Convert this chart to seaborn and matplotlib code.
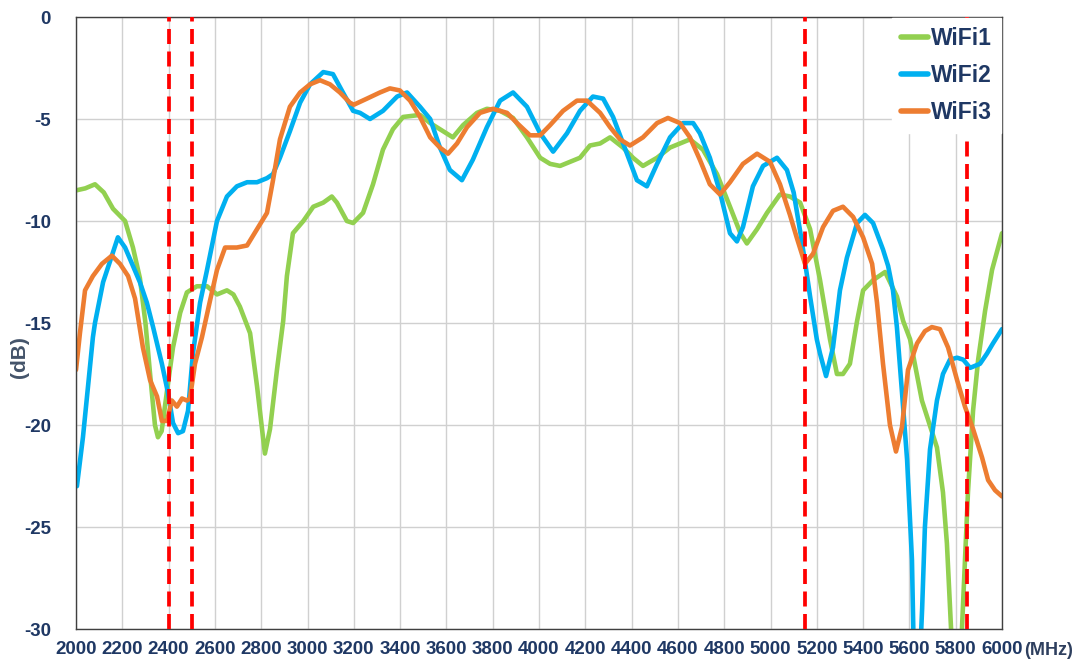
import pandas as pd
import matplotlib
matplotlib.use("Agg")
import matplotlib.pyplot as plt
import seaborn as sns

# --- data (MHz, dB) ---
wifi1_f = [2000, 2040, 2082, 2120, 2160, 2212, 2246, 2276, 2300, 2320, 2341, 2354, 2370, 2397, 2419,
           2450, 2479, 2522, 2566, 2609, 2652, 2680, 2708, 2752, 2782, 2816, 2838, 2868, 2895, 2911,
           2937, 2982, 3025, 3068, 3105, 3127, 3170, 3197, 3240, 3283, 3326, 3369, 3413, 3486, 3530,
           3572, 3628, 3672, 3732, 3775, 3832, 3888, 3948, 4005, 4048, 4091, 4134, 4177, 4220, 4264,
           4307, 4363, 4406, 4449, 4510, 4566, 4609, 4652, 4708, 4769, 4825, 4870, 4898, 4942, 4985,
           5041, 5084, 5128, 5171, 5214, 5257, 5287, 5313, 5343, 5374, 5400, 5443, 5495, 5546, 5573,
           5603, 5654, 5719, 5745, 5762, 5780, 5800, 5815, 5827, 5853, 5875, 5897, 5927, 5957, 6000]
wifi1_db = [-8.5, -8.4, -8.2, -8.6, -9.4, -10.0, -11.3, -12.8, -15.0, -17.5, -20.0, -20.6, -20.3, -18.0, -16.2,
            -14.5, -13.5, -13.2, -13.2, -13.6, -13.4, -13.6, -14.2, -15.5, -18.1, -21.4, -20.2, -17.3, -14.9, -12.7,
            -10.6, -10.0, -9.3, -9.1, -8.8, -9.1, -10.0, -10.1, -9.6, -8.2, -6.5, -5.5, -4.9, -4.8, -5.2,
            -5.5, -5.9, -5.3, -4.7, -4.5, -4.6, -4.95, -5.9, -6.9, -7.2, -7.3, -7.1, -6.9, -6.3, -6.2,
            -5.9, -6.4, -6.9, -7.3, -6.9, -6.4, -6.2, -6.0, -6.5, -7.7, -9.3, -10.6, -11.1, -10.4, -9.6,
            -8.7, -8.8, -9.1, -10.4, -12.9, -15.8, -17.5, -17.5, -17.0, -14.9, -13.4, -12.9, -12.5, -13.7, -14.9,
            -15.8, -18.8, -21.1, -23.3, -25.8, -30.0, -34.0, -34.0, -30.0, -23.3, -19.3, -16.8, -14.4, -12.4, -10.6]

wifi2_f = [2004, 2030, 2052, 2073, 2082, 2117, 2155, 2181, 2212, 2246, 2276, 2306, 2333, 2371, 2397,
           2419, 2441, 2462, 2484, 2505, 2536, 2566, 2609, 2652, 2695, 2739, 2782, 2825, 2851, 2881,
           2924, 2968, 3011, 3068, 3110, 3153, 3197, 3227, 3270, 3326, 3387, 3430, 3486, 3530, 3572,
           3615, 3667, 3714, 3775, 3832, 3888, 3948, 4005, 4061, 4121, 4177, 4233, 4277, 4320, 4380,
           4423, 4466, 4510, 4566, 4622, 4666, 4695, 4738, 4782, 4825, 4855, 4881, 4924, 4968, 5028,
           5071, 5100, 5128, 5149, 5171, 5200, 5214, 5240, 5270, 5300, 5330, 5374, 5408, 5443, 5486,
           5508, 5529, 5546, 5568, 5590, 5611, 5622, 5640, 5655, 5667, 5689, 5719, 5745, 5775, 5806,
           5833, 5862, 5905, 5935, 5961, 6000]
wifi2_db = [-23.0, -20.6, -18.1, -15.7, -15.0, -13.0, -11.7, -10.8, -11.3, -12.2, -13.0, -14.0, -15.2, -17.0, -18.4,
            -19.9, -20.4, -20.3, -19.3, -16.5, -14.0, -12.4, -10.0, -8.8, -8.3, -8.1, -8.1, -7.9, -7.7, -6.9,
            -5.6, -4.2, -3.3, -2.7, -2.8, -3.7, -4.6, -4.7, -5.0, -4.6, -3.9, -3.7, -4.4, -5.0, -6.4,
            -7.5, -8.0, -7.0, -5.4, -4.1, -3.7, -4.4, -5.7, -6.6, -5.7, -4.6, -3.9, -4.0, -4.9, -6.7,
            -8.0, -8.3, -7.2, -5.9, -5.2, -5.2, -5.7, -6.9, -8.6, -10.6, -11.0, -10.3, -8.3, -7.3, -6.9,
            -7.5, -8.6, -10.5, -12.0, -13.7, -15.8, -16.5, -17.6, -16.2, -13.4, -11.8, -10.1, -9.7, -10.1, -11.4,
            -12.2, -13.4, -15.2, -18.4, -21.7, -26.6, -33.0, -33.0, -29.0, -25.0, -21.2, -18.8, -17.5, -16.8, -16.7,
            -16.8, -17.2, -17.0, -16.5, -16.0, -15.3]

wifi3_f = [2000, 2017, 2039, 2073, 2112, 2155, 2190, 2225, 2255, 2289, 2320, 2350, 2371, 2393, 2414,
           2436, 2458, 2479, 2492, 2514, 2544, 2579, 2609, 2644, 2695, 2739, 2782, 2825, 2851, 2881,
           2924, 2968, 3011, 3054, 3097, 3140, 3183, 3200, 3257, 3313, 3356, 3399, 3443, 3486, 3530,
           3572, 3607, 3646, 3689, 3745, 3801, 3862, 3905, 3961, 4005, 4048, 4104, 4164, 4207, 4264,
           4307, 4350, 4393, 4449, 4510, 4557, 4609, 4652, 4695, 4738, 4782, 4825, 4881, 4942, 4998,
           5041, 5084, 5113, 5149, 5184, 5227, 5270, 5313, 5357, 5400, 5439, 5460, 5486, 5516, 5542,
           5568, 5594, 5633, 5667, 5697, 5732, 5767, 5806, 5840, 5875, 5914, 5940, 5970, 6000]
wifi3_db = [-17.3, -15.5, -13.4, -12.7, -12.1, -11.7, -12.1, -12.7, -13.8, -16.2, -17.8, -18.6, -19.8, -19.8, -18.8,
            -19.1, -18.7, -18.8, -18.7, -17.0, -15.7, -13.9, -12.4, -11.3, -11.3, -11.2, -10.4, -9.6, -8.0, -6.0,
            -4.4, -3.7, -3.3, -3.1, -3.3, -3.7, -4.2, -4.3, -4.0, -3.7, -3.5, -3.6, -4.1, -4.9, -5.9,
            -6.4, -6.7, -6.2, -5.4, -4.7, -4.5, -4.7, -5.2, -5.8, -5.8, -5.3, -4.6, -4.1, -4.1, -4.7,
            -5.4, -6.0, -6.3, -5.9, -5.2, -4.95, -5.2, -5.9, -7.0, -8.2, -8.7, -8.1, -7.2, -6.7, -7.1,
            -8.2, -9.7, -10.8, -12.1, -11.6, -10.3, -9.5, -9.3, -9.8, -10.8, -12.1, -14.0, -17.0, -20.0, -21.3,
            -20.1, -17.3, -16.0, -15.4, -15.2, -15.3, -16.2, -17.8, -19.1, -20.2, -21.6, -22.7, -23.2, -23.5]

band_edges = [2400, 2500, 5150, 5850]
x_ticks = list(range(2000, 6001, 200))
y_ticks = list(range(-30, 1, 5))

# --- long-form table for seaborn ---
df = pd.concat([
    pd.DataFrame({"freq": wifi1_f, "db": wifi1_db, "series": "WiFi1"}),
    pd.DataFrame({"freq": wifi2_f, "db": wifi2_db, "series": "WiFi2"}),
    pd.DataFrame({"freq": wifi3_f, "db": wifi3_db, "series": "WiFi3"}),
], ignore_index=True)

palette = {"WiFi1": "#92D050", "WiFi2": "#00B0F0", "WiFi3": "#ED7D31"}
navy = "#1F3864"

sns.set_style("whitegrid")
plt.rcParams["font.family"] = ["Liberation Sans", "DejaVu Sans"]
plt.rcParams["axes.unicode_minus"] = False

fig = plt.figure(figsize=(10.78, 6.67), dpi=100)
ax = fig.add_axes([76 / 1078, 1 - 629 / 667, (1002 - 76) / 1078, (629 - 17) / 667])

sns.lineplot(data=df, x="freq", y="db", hue="series", palette=palette,
             estimator=None, linewidth=3.3, ax=ax, zorder=2)

for xv in band_edges:
    ax.axvline(xv, color="#FF0000", linewidth=2.7, dashes=(4, 2), zorder=3)

ax.set_xlim(2000, 6000)
ax.set_ylim(-30, 0)
ax.set_xticks(x_ticks)
ax.set_yticks(y_ticks)
ax.grid(True, color="#D0D0D0", linewidth=1)
ax.set_xlabel("")
ax.set_ylabel("")
for s in ax.spines.values():
    s.set_color("#404040")
    s.set_linewidth(1)
ax.tick_params(axis="both", direction="in", length=4, color="#404040",
               labelsize=13.5, labelcolor=navy)
ax.tick_params(axis="x", pad=9)
ax.tick_params(axis="y", pad=18)
for lab in ax.get_xticklabels() + ax.get_yticklabels():
    lab.set_fontweight("bold")

ax.text((1024 - 76) / 926, -0.035, "(MHz)", transform=ax.transAxes, ha="left", va="center",
        fontsize=13, fontweight="bold", color="#2E3F5E")
fig.text(20 / 1078, 1 - 357 / 667, "(dB)", rotation=90, ha="center", va="center",
         fontsize=15, fontweight="bold", color="#44546A")

leg = ax.legend(loc="upper right", frameon=True, handlelength=1.2,
                handletextpad=0.1, borderaxespad=0.05, labelspacing=0.6,
                prop={"weight": "bold", "size": 16.5}, labelcolor=navy)
for h in leg.get_lines():
    h.set_linewidth(4)
leg.get_frame().set_edgecolor("white")
leg.get_frame().set_facecolor("white")
leg.get_frame().set_alpha(1)
leg.get_frame().set_boxstyle("square", pad=0)
leg.set_zorder(5)

fig.savefig("out.png", dpi=100)
